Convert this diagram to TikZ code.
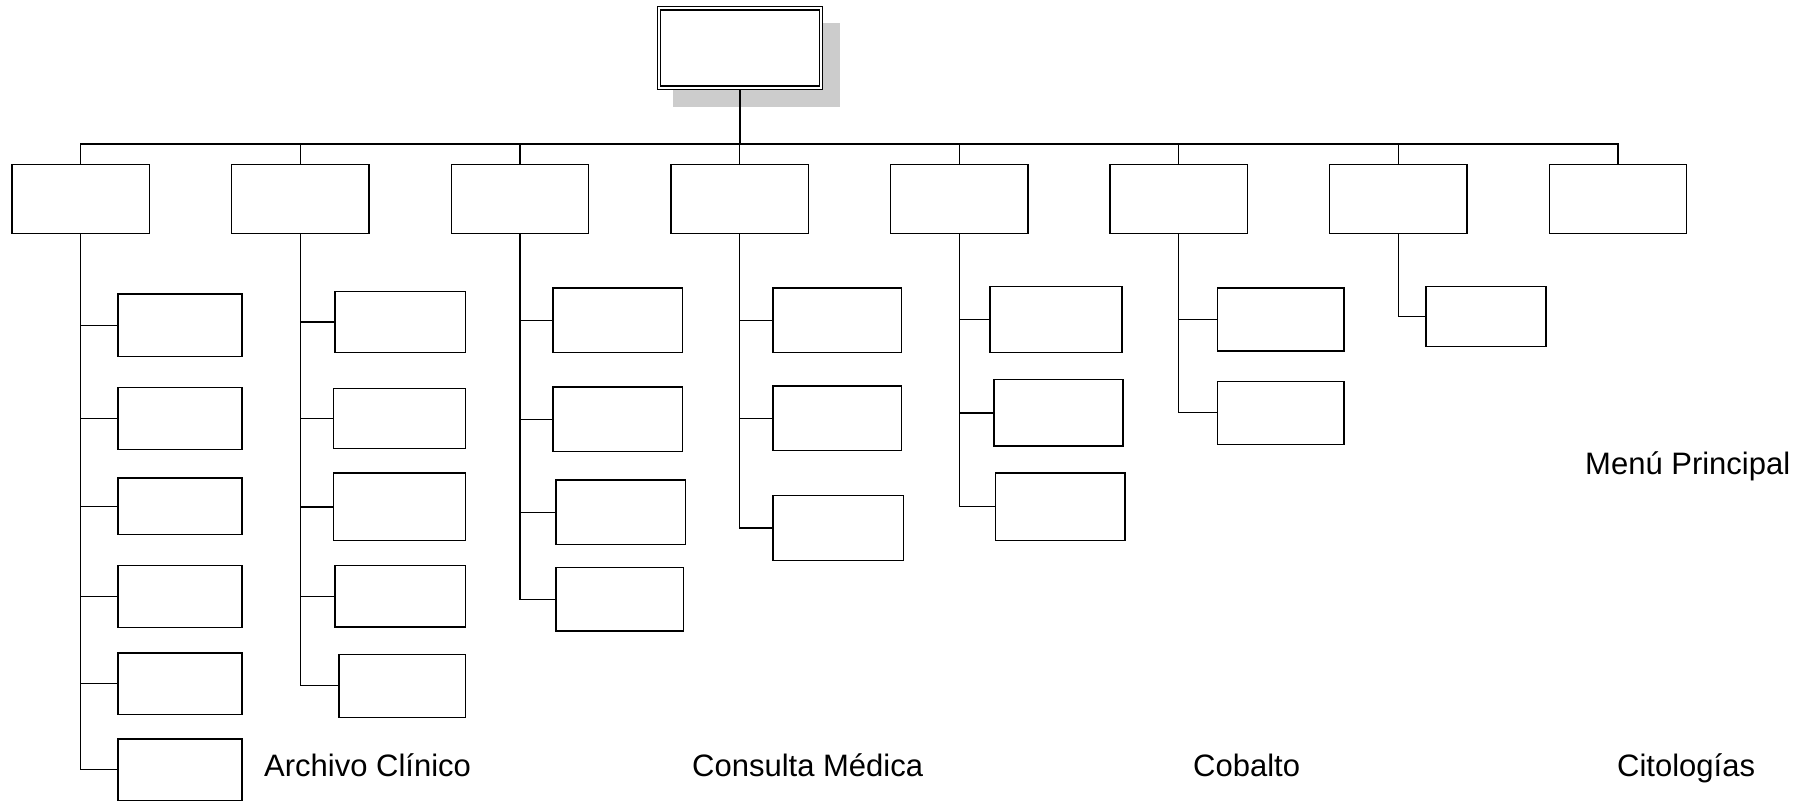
\documentclass[tikz,border=0pt]{standalone}
\usepackage{fontspec}
\setmainfont{Liberation Sans}
\begin{document}
\begin{tikzpicture}[x=1pt,y=-1pt,
  box/.style={draw=black,line width=1.4pt,fill=white,rectangle,inner sep=0pt,outer sep=0pt},
  link/.style={draw=black,line width=1.3pt},
  buslink/.style={draw=black,line width=2pt},
  label/.style={font=\fontsize{31}{36}\selectfont,inner sep=0pt,anchor=base west}]
\useasboundingbox[fill=white] (0,0) rectangle (1809,803);
% box from corner (x1,y1) to corner (x2,y2)
\newcommand\orgbox[5]{\node[box,minimum width={(#4-#2)*1pt},minimum height={(#5-#3)*1pt}] (#1) at ({(#2+#4)/2},{(#3+#5)/2}) {};}

% head of the chart: shadow and double frame
\fill[black!20] (673.3,22.7) rectangle (840,106.7);
\node[box,minimum width=165.4pt,minimum height=83pt] (top) at (740,47.8) {};
\draw[line width=1.4pt] (660.7,10) rectangle (819.3,86);
\coordinate (bus) at (740,144);

% first level
\foreach \i in {1,...,8}{
  \pgfmathsetmacro\cx{80.8+219.6*(\i-1)}
  \node[box,minimum width=137.5pt,minimum height=69pt] (m\i) at (\cx,198.8) {};
}

% second level
\orgbox{a1}{117.9}{294}{241.9}{356.3}
\orgbox{a2}{117.9}{387.3}{241.9}{449.3}
\orgbox{a3}{117.9}{478}{241.9}{534.3}
\orgbox{a4}{117.9}{565.7}{241.9}{627.7}
\orgbox{a5}{117.9}{653}{241.9}{714.3}
\orgbox{a6}{117.9}{739}{241.9}{800.3}

\orgbox{b1}{334.9}{291.3}{465.7}{352.7}
\orgbox{b2}{333.7}{388.3}{465.7}{448.3}
\orgbox{b3}{333.7}{473}{465.7}{540.7}
\orgbox{b4}{334.9}{565.7}{465.7}{627}
\orgbox{b5}{339.1}{654.3}{465.7}{717.3}

\orgbox{c1}{553.1}{288}{682.4}{352.7}
\orgbox{c2}{553.1}{387}{682.4}{451.3}
\orgbox{c3}{556}{480}{685.3}{544.7}
\orgbox{c4}{556}{567.5}{683.7}{631}

\orgbox{d1}{772.8}{288}{901.7}{352.7}
\orgbox{d2}{772.8}{386}{901.7}{450.7}
\orgbox{d3}{772.8}{495.3}{903.4}{560.7}

\orgbox{e1}{990}{286.3}{1121.9}{352.7}
\orgbox{e2}{993.8}{379.7}{1123.1}{446}
\orgbox{e3}{995.4}{473}{1124.8}{540.3}

\orgbox{f1}{1217.5}{288}{1343.8}{351}
\orgbox{f2}{1217.5}{381.3}{1343.8}{444.3}

\orgbox{g1}{1426.1}{286.3}{1546.1}{346.7}

% connectors
\draw[buslink] (top.south) -- (bus);
\foreach \i in {1,...,8}{ \draw[link] (m\i.north) |- (bus); }
\draw[buslink] (m1.north |- bus) -- (m8.north |- bus);
\foreach \c in {a1,a2,a3,a4,a5,a6}{ \draw[link] (m1.south) |- (\c.west); }
\foreach \c in {b1,b2,b3,b4,b5}{ \draw[link] (m2.south) |- (\c.west); }
\foreach \c in {c1,c2,c3,c4}{ \draw[link] (m3.south) |- (\c.west); }
\foreach \c in {d1,d2,d3}{ \draw[link] (m4.south) |- (\c.west); }
\foreach \c in {e1,e2,e3}{ \draw[link] (m5.south) |- (\c.west); }
\foreach \c in {f1,f2}{ \draw[link] (m6.south) |- (\c.west); }
\draw[link] (m7.south) |- (g1.west);

% captions
\node[label] (tmenu) at (1585,474) {Menú Principal};
\node[label] (tarch) at (264,776.5) {Archivo Clínico};
\node[label] (tcons) at (692,776.5) {Consulta Médica};
\node[label] (tcob) at (1193,776.5) {Cobalto};
\node[label] (tcit) at (1617,776.5) {Citologías};
\end{tikzpicture}
\end{document}
